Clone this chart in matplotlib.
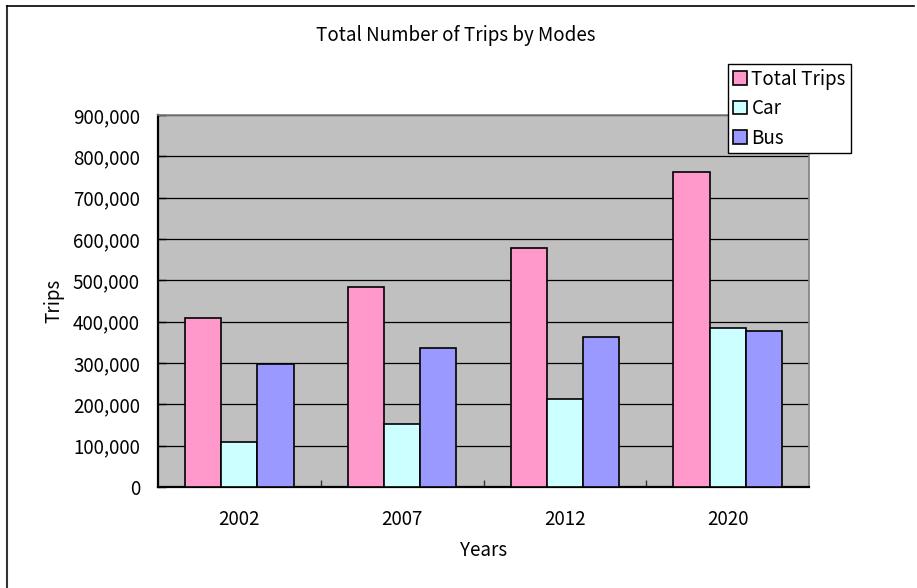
import matplotlib
matplotlib.use("Agg")
import matplotlib.pyplot as plt
import numpy as np
from matplotlib.lines import Line2D
from matplotlib.ticker import FuncFormatter, MultipleLocator

plt.rcParams["font.family"] = ["Noto Sans CJK JP", "DejaVu Sans"]

years = ["2002", "2007", "2012", "2020"]
total_trips = [408000, 485000, 578000, 761000]
car_trips = [110000, 152000, 214000, 384000]
bus_trips = [298000, 336000, 364000, 377000]

series = [
    ("Total Trips", total_trips, "#FF99CC"),
    ("Car", car_trips, "#CCFFFF"),
    ("Bus", bus_trips, "#9999FF"),
]

W, H = 917, 588
fig = plt.figure(figsize=(W / 100, H / 100), dpi=100)
ax = fig.add_axes([158 / W, 1 - 487 / H, 651 / W, 372 / H])
ax.set_facecolor("#C0C0C0")

x = np.arange(len(years))
bw = 1 / 4.5
for i, (name, vals, col) in enumerate(series):
    ax.bar(x + (i - 1) * bw, vals, bw, color=col, edgecolor="black",
           linewidth=1.2, label=name, zorder=3)

ax.set_xlim(-0.5, len(years) - 0.5)
ax.set_ylim(0, 900000)
ax.yaxis.set_major_locator(MultipleLocator(100000))
ax.yaxis.set_major_formatter(FuncFormatter(lambda v, p: f"{int(v):,}"))
ax.grid(True, axis="y", color="black", linewidth=0.9, zorder=1)
ax.set_axisbelow(True)

ax.set_xticks(x)
ax.set_xticklabels(years)
ax.set_xticks(np.arange(0.5, len(years) - 0.5), minor=True)
ax.tick_params(axis="x", which="major", length=0, pad=16, labelsize=13.5)
ax.tick_params(axis="x", which="minor", direction="in", length=5, width=1, color="#333333")
ax.tick_params(axis="y", direction="in", length=6, width=1, pad=13, labelsize=13.5)

for s in ("left", "bottom"):
    ax.spines[s].set_color("black")
    ax.spines[s].set_linewidth(1.6)
for s in ("top", "right"):
    ax.spines[s].set_color("#808080")
    ax.spines[s].set_linewidth(1.2)

ax.set_ylabel("Trips", fontsize=13.5, labelpad=6)
ax.set_xlabel("Years", fontsize=13.5, labelpad=7)
fig.text(456 / W, 1 - 35 / H, "Total Number of Trips by Modes",
         ha="center", va="center", fontsize=13.5)

leg = ax.legend(loc="upper left", bbox_to_anchor=(728 / W, 1 - 64 / H),
                bbox_transform=fig.transFigure, fontsize=13.5, frameon=True,
                fancybox=False, edgecolor="black", framealpha=1,
                borderpad=0.25, handlelength=0.75, handleheight=0.75,
                handletextpad=0.25, labelspacing=0.45, borderaxespad=0)
leg.get_frame().set_linewidth(1.0)

# chart area border (left and top edges)
fig.add_artist(Line2D([7 / W, 7 / W], [0, 1 - 6 / H], color="#333333",
                      linewidth=1.5, transform=fig.transFigure))
fig.add_artist(Line2D([7 / W, 914 / W], [1 - 6 / H, 1 - 6 / H], color="black",
                      linewidth=1.2, transform=fig.transFigure))

fig.savefig("out.png", dpi=100, facecolor="white")
